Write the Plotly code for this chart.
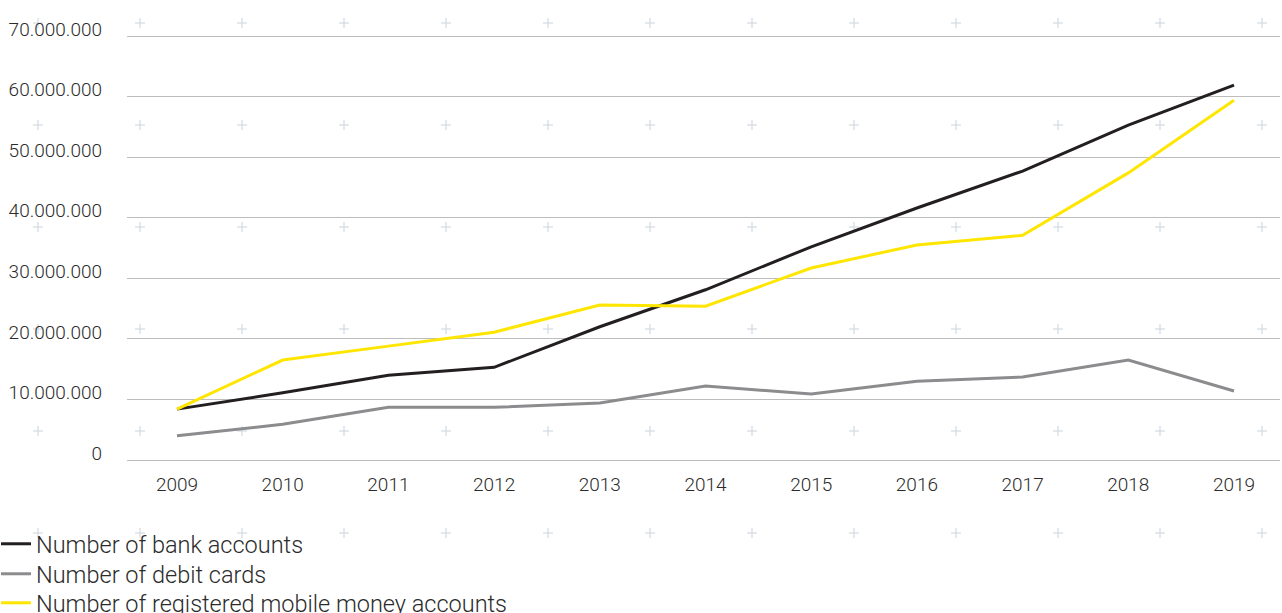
import plotly.graph_objects as go

years = ["2009", "2010", "2011", "2012", "2013", "2014", "2015", "2016", "2017", "2018", "2019"]
bank_accounts = [8.4e6, 11.1e6, 14.0e6, 15.3e6, 22.0e6, 28.1e6, 35.2e6, 41.6e6, 47.7e6, 55.3e6, 61.9e6]
debit_cards = [4.0e6, 5.9e6, 8.7e6, 8.7e6, 9.4e6, 12.2e6, 10.9e6, 13.0e6, 13.7e6, 16.5e6, 11.4e6]
mobile_money = [8.4e6, 16.5e6, 18.8e6, 21.1e6, 25.6e6, 25.4e6, 31.7e6, 35.5e6, 37.1e6, 47.4e6, 59.4e6]
series_names = ["Number of bank accounts", "Number of debit cards", "Number of registered mobile money accounts"]
y_ticks = [0, 10e6, 20e6, 30e6, 40e6, 50e6, 60e6, 70e6]
y_top_tick = 70e6

W, H = 1282, 613
ML, MR, MT, MB = 127, 2, 16, 153
pw = W - ML - MR
ph = H - MT - MB
top_tick_px = 36  # pixel row of the 70M gridline
y_range_max = y_top_tick * ph / (H - MB - top_tick_px)

FONT = "Roboto"
TXT = "#2b2b2b"
COLORS = ["#231f20", "#8c8c8f", "#ffe600"]

fig = go.Figure()
legend_ids = ["legend", "legend2", "legend3"]
for name, vals, col, lid in zip(series_names, [bank_accounts, debit_cards, mobile_money], COLORS, legend_ids):
    fig.add_trace(go.Scatter(x=years, y=vals, mode="lines", name=name, legend=lid,
                             line=dict(color=col, width=3)))

# decorative background crosses
shapes = []
cols = [38 + 102.0 * k for k in range(13)]
rows = [23 + 102.0 * k for k in range(6)]
for cx in cols:
    for cy in rows:
        for (x0, y0, x1, y1) in [(cx - 5, cy, cx + 5, cy), (cx, cy - 5, cx, cy + 5)]:
            shapes.append(dict(type="line", xref="paper", yref="paper", layer="below",
                               x0=(x0 - ML) / pw, x1=(x1 - ML) / pw,
                               y0=(H - MB - y0) / ph, y1=(H - MB - y1) / ph,
                               line=dict(color="#d3dbe2", width=1.2)))

# tick labels sit ~7px above their gridlines
lab_shift = 7 / ph * y_range_max

legend_centers = [544, 574, 603]
legend_style = dict(orientation="v", x=(-4 - ML) / pw, xanchor="left", yanchor="middle",
                    font=dict(family=FONT, size=23.5, color=TXT, weight=300),
                    bgcolor="rgba(0,0,0,0)", itemwidth=30, borderwidth=0)
legends = {}
for lid, yc in zip(legend_ids, legend_centers):
    legends[lid] = dict(legend_style, y=(H - MB - yc) / ph)

fig.update_layout(
    width=W, height=H,
    margin=dict(l=ML, r=MR, t=MT, b=MB, autoexpand=False),
    paper_bgcolor="white", plot_bgcolor="rgba(0,0,0,0)",
    separators=",.",
    font=dict(family=FONT, color=TXT, size=19, weight=300),
    shapes=shapes,
    showlegend=True,
    xaxis=dict(type="category", range=[-0.473, 10.435], showgrid=False, showline=False,
               zeroline=False, ticks="", automargin=False,
               tickfont=dict(size=19, family=FONT, color=TXT, weight=300),
               ticklabelstandoff=11),
    yaxis=dict(range=[0, y_range_max], tickvals=y_ticks, tickformat=",d", showgrid=True,
               gridcolor="#bdbdbd", gridwidth=1, zeroline=True, zerolinecolor="#bdbdbd",
               zerolinewidth=1, showline=False, ticks="", showticklabels=False, automargin=False),
    yaxis2=dict(overlaying="y", side="left", range=[-lab_shift, y_range_max - lab_shift],
                tickvals=y_ticks, tickformat=",d", showgrid=False, zeroline=False,
                showline=False, ticks="", automargin=False,
                tickfont=dict(size=19, family=FONT, color=TXT, weight=300),
                ticklabelstandoff=24),
    **legends,
)
fig.add_trace(go.Scatter(x=[years[0]], y=[0], yaxis="y2", mode="markers",
                         marker=dict(opacity=0), showlegend=False, hoverinfo="skip"))

fig.write_html("out.html", config={"displayModeBar": False},
               post_script="document.body.style.margin='0';document.body.style.overflow='hidden';")
